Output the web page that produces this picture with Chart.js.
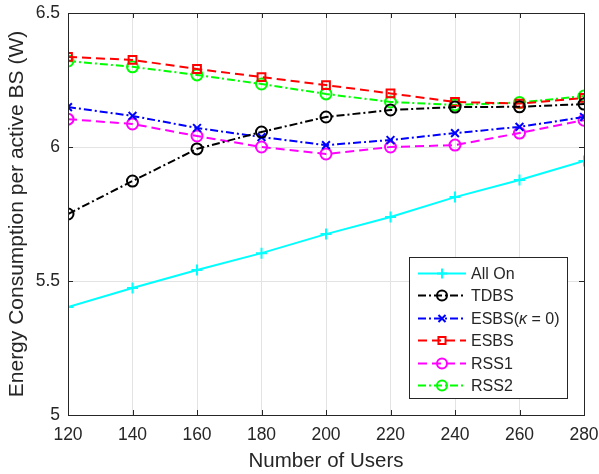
<!DOCTYPE html>
<html>
<head>
<meta charset="utf-8">
<script src="https://cdn.jsdelivr.net/npm/chart.js@4/dist/chart.umd.min.js"></script>
<style>
  html, body { margin: 0; padding: 0; background: #fff; }
  #wrap { width: 599px; height: 474px; position: relative; }
</style>
</head>
<body>
<div id="wrap"><canvas id="c" width="599" height="474"></canvas></div>
<script>
// Number of users on the x axis
const users = [120, 140, 160, 180, 200, 220, 240, 260, 280];
const yTickValues = [5, 5.5, 6, 6.5];

// Energy consumption per active BS (W) for each scheme
const allOn  = [5.403, 5.474, 5.541, 5.604, 5.675, 5.739, 5.813, 5.877, 5.948];
const tdbs   = [5.750, 5.873, 5.993, 6.056, 6.112, 6.138, 6.149, 6.150, 6.160];
const esbsK0 = [6.149, 6.116, 6.071, 6.037, 6.007, 6.026, 6.052, 6.075, 6.112];
const esbs   = [6.336, 6.325, 6.291, 6.261, 6.231, 6.200, 6.168, 6.162, 6.183];
const rss1   = [6.104, 6.086, 6.041, 6.000, 5.974, 6.000, 6.007, 6.052, 6.100];
const rss2   = [6.321, 6.299, 6.269, 6.235, 6.198, 6.168, 6.157, 6.166, 6.190];

const seriesNames = ['All On', 'TDBS', 'ESBS(κ = 0)', 'ESBS', 'RSS1', 'RSS2'];

const FONT = '"Liberation Sans", Arial, Helvetica, sans-serif';
const AXIS = '#262626';

const pts = vals => users.map((u, i) => ({ x: u, y: vals[i] }));
const DASHDOT = [8, 3, 2, 3];
const DASH = [9, 5];

function ds(label, vals, color, dash, pointStyle) {
  return {
    label, data: pts(vals),
    borderColor: color, backgroundColor: 'rgba(0,0,0,0)',
    borderWidth: 2, borderDash: dash,
    pointStyle, pointRadius: 5.5, pointBorderWidth: 2,
    pointBorderColor: color, pointBackgroundColor: 'rgba(0,0,0,0)',
    pointHoverRadius: 5.5, tension: 0, fill: false
  };
}

// Frame with inward tick marks, like a boxed axes
const framePlugin = {
  id: 'frame',
  afterDatasetsDraw(chart) {
    const { ctx, chartArea: a, scales } = chart;
    ctx.save();
    ctx.strokeStyle = AXIS;
    ctx.lineWidth = 1;
    ctx.setLineDash([]);
    ctx.strokeRect(Math.round(a.left) + 0.5, Math.round(a.top) + 0.5,
                   Math.round(a.right - a.left), Math.round(a.bottom - a.top));
    const tl = 5;
    ctx.beginPath();
    users.forEach(u => {
      const x = Math.round(scales.x.getPixelForValue(u)) + 0.5;
      ctx.moveTo(x, a.bottom); ctx.lineTo(x, a.bottom - tl);
      ctx.moveTo(x, a.top); ctx.lineTo(x, a.top + tl);
    });
    yTickValues.forEach(v => {
      const y = Math.round(scales.y.getPixelForValue(v)) + 0.5;
      ctx.moveTo(a.left, y); ctx.lineTo(a.left + tl, y);
      ctx.moveTo(a.right, y); ctx.lineTo(a.right - tl, y);
    });
    ctx.stroke();
    ctx.restore();
  }
};

// Legend box with line + marker samples
const legendPlugin = {
  id: 'boxLegend',
  afterDraw(chart) {
    const { ctx } = chart;
    const bx = 409, by = 257, bw = 158, bh = 141;
    ctx.save();
    ctx.fillStyle = '#fff';
    ctx.fillRect(bx, by, bw, bh);
    ctx.strokeStyle = AXIS;
    ctx.lineWidth = 1;
    ctx.setLineDash([]);
    ctx.strokeRect(bx + 0.5, by + 0.5, bw, bh);
    const rowH = 22.4, y0 = 273;
    chart.data.datasets.forEach((d, i) => {
      const y = Math.round(y0 + i * rowH) + 0.5;
      ctx.strokeStyle = d.borderColor;
      ctx.lineWidth = 2;
      ctx.setLineDash(d.borderDash || []);
      ctx.beginPath();
      ctx.moveTo(418, y); ctx.lineTo(466, y);
      ctx.stroke();
      ctx.setLineDash([]);
      ctx.fillStyle = 'rgba(0,0,0,0)';
      ctx.lineWidth = 2;
      Chart.helpers.drawPoint(ctx, { pointStyle: d.pointStyle, rotation: 0, radius: 5, borderWidth: 2 }, 442, y);
      ctx.fillStyle = AXIS;
      ctx.textBaseline = 'middle';
      ctx.textAlign = 'left';
      let x = 471;
      const parts = d.label === 'ESBS(κ = 0)'
        ? [['ESBS(', ''], ['κ', 'italic '], [' = 0)', '']]
        : [[d.label, '']];
      parts.forEach(([t, st]) => {
        ctx.font = st + '16px ' + FONT;
        ctx.fillText(t, x, y + 1);
        x += ctx.measureText(t).width;
      });
    });
    ctx.restore();
  }
};

new Chart(document.getElementById('c'), {
  type: 'line',
  data: {
    datasets: [
      ds(seriesNames[0], allOn,  '#00ffff', [],      'cross'),
      ds(seriesNames[1], tdbs,   '#000000', DASHDOT, 'circle'),
      ds(seriesNames[2], esbsK0, '#0000ff', DASHDOT, 'crossRot'),
      ds(seriesNames[3], esbs,   '#ff0000', DASH,    'rect'),
      ds(seriesNames[4], rss1,   '#ff00ff', DASH,    'circle'),
      ds(seriesNames[5], rss2,   '#00ff00', DASHDOT, 'circle')
    ]
  },
  options: {
    responsive: false,
    animation: false,
    devicePixelRatio: 1,
    layout: { padding: 0 },
    plugins: {
      legend: { display: false },
      tooltip: { enabled: false }
    },
    scales: {
      x: {
        type: 'linear', min: 120, max: 280,
        afterBuildTicks: s => { s.ticks = users.map(v => ({ value: v })); },
        afterFit: s => { s.height = 59; s.paddingLeft = 0; s.paddingRight = 15; },
        grid: { color: '#e3e3e3', lineWidth: 1, drawTicks: false },
        border: { display: false },
        ticks: { color: AXIS, font: { family: FONT, size: 17.5 }, padding: 10, maxRotation: 0 },
        title: { display: true, text: 'Number of Users', color: AXIS,
                 font: { family: FONT, size: 20.5 }, padding: { top: 0, bottom: 0 } }
      },
      y: {
        type: 'linear', min: 5, max: 6.5,
        afterBuildTicks: s => { s.ticks = yTickValues.map(v => ({ value: v })); },
        afterFit: s => { s.width = 68; s.paddingTop = 13; s.paddingBottom = 0; },
        grid: { color: '#e3e3e3', lineWidth: 1, drawTicks: false },
        border: { display: false },
        ticks: { color: AXIS, font: { family: FONT, size: 17.5 }, padding: 8,
                 callback: v => String(v) },
        title: { display: true, text: 'Energy Consumption per active BS (W)', color: AXIS,
                 font: { family: FONT, size: 21 }, padding: { top: 5, bottom: 0 } }
      }
    }
  },
  plugins: [framePlugin, legendPlugin]
});
</script>
</body>
</html>
